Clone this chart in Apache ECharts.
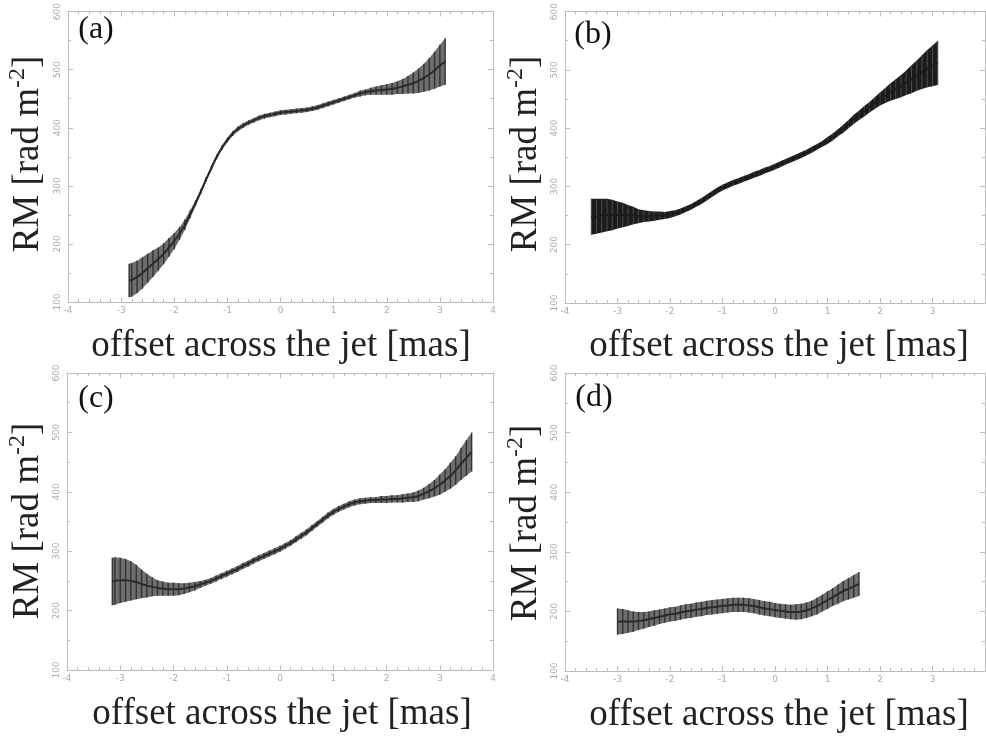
<!DOCTYPE html>
<html>
<head>
<meta charset="utf-8">
<script src="https://cdn.jsdelivr.net/npm/echarts@6/dist/echarts.min.js"></script>
<style>html,body{margin:0;padding:0;background:#fff}#c{width:986px;height:736px}</style>
</head>
<body>
<div id="c"></div>
<script>
// ---- Data ----
const xTicks = [-4, -3, -2, -1, 0, 1, 2, 3, 4];
const yTicks = [100, 200, 300, 400, 500, 600];

// Panel (a)
const aX = [-2.85,-2.8,-2.7,-2.6,-2.5,-2.4,-2.3,-2.2,-2.1,-2.0,-1.9,-1.8,-1.7,-1.6,-1.5,-1.4,-1.3,-1.2,-1.1,-1.0,-0.9,-0.8,-0.7,-0.6,-0.5,-0.4,-0.3,-0.2,-0.1,0.0,0.1,0.2,0.3,0.4,0.5,0.6,0.7,0.8,0.9,1.0,1.1,1.2,1.3,1.4,1.5,1.6,1.7,1.8,1.9,2.0,2.1,2.2,2.3,2.4,2.5,2.6,2.7,2.8,2.9,3.0,3.1];
const aRM = [137,138,143,150,158,166,174,183,194,205,218,233,251,270,290,311,331,350,366,379,390,398,404,409,413,417,420,422,424,426,427,428,429,430,431,433,435,438,441,444,447,450,453,456,459,461,463,464,465,466,467,469,471,474,477,481,486,492,499,507,514];
const aErr = [29,29,28,27,25,23,20,18,16,14,11,9,7,5,4,4,4,4,4,4,4,4,4,4,4,4,4,4,4,4,4,4,4,4,4,4,4,4,4,4,4,4,4,4,5,5,6,7,8,9,10,11,13,15,18,21,24,28,32,36,40];

// Panel (b)
const bX = [-3.5,-3.4,-3.3,-3.2,-3.1,-3.0,-2.9,-2.8,-2.7,-2.6,-2.5,-2.4,-2.3,-2.2,-2.1,-2.0,-1.9,-1.8,-1.7,-1.6,-1.5,-1.4,-1.3,-1.2,-1.1,-1.0,-0.9,-0.8,-0.7,-0.6,-0.5,-0.4,-0.3,-0.2,-0.1,0.0,0.1,0.2,0.3,0.4,0.5,0.6,0.7,0.8,0.9,1.0,1.1,1.2,1.3,1.4,1.5,1.6,1.7,1.8,1.9,2.0,2.1,2.2,2.3,2.4,2.5,2.6,2.7,2.8,2.9,3.0,3.1];
const bRM = [248,249,250,251,251,251,251,250,250,249,249,249,249,250,250,252,254,257,261,265,270,275,281,287,293,298,302,306,309,313,316,320,323,327,330,334,338,342,346,350,354,358,363,368,373,379,385,392,399,407,415,422,429,436,443,450,456,462,467,472,478,484,490,496,502,507,512];
const bErr = [31,30,29,28,26,23,21,18,15,12,10,9,8,7,6,6,5,5,5,5,5,5,5,5,5,5,5,5,5,5,5,5,5,5,5,5,5,5,5,5,5,5,5,5,5,6,6,6,7,7,8,8,9,9,10,11,13,15,17,19,21,24,26,29,32,35,38];

// Panel (c)
const cX = [-3.15,-3.1,-3.0,-2.9,-2.8,-2.7,-2.6,-2.5,-2.4,-2.3,-2.2,-2.1,-2.0,-1.9,-1.8,-1.7,-1.6,-1.5,-1.4,-1.3,-1.2,-1.1,-1.0,-0.9,-0.8,-0.7,-0.6,-0.5,-0.4,-0.3,-0.2,-0.1,0.0,0.1,0.2,0.3,0.4,0.5,0.6,0.7,0.8,0.9,1.0,1.1,1.2,1.3,1.4,1.5,1.6,1.7,1.8,1.9,2.0,2.1,2.2,2.3,2.4,2.5,2.6,2.7,2.8,2.9,3.0,3.1,3.2,3.3,3.4,3.5,3.6];
const cRM = [249,250,251,251,250,248,245,242,240,238,237,236,236,236,237,239,241,244,247,250,254,258,262,266,270,275,279,284,288,292,296,300,304,309,314,320,326,332,339,346,353,360,366,371,375,379,382,384,385,386,386,387,387,388,388,389,390,391,393,397,401,406,412,419,427,436,447,457,467];
const cErr = [40,40,38,36,33,29,24,20,16,13,12,11,11,10,9,8,7,6,5,5,5,5,5,5,5,5,5,5,5,5,5,5,5,5,5,5,5,5,5,5,5,5,5,5,5,5,5,5,5,5,5,6,6,6,6,7,7,8,9,10,12,14,17,19,22,24,27,30,33];

// Panel (d)
const dX = [-3.0,-2.9,-2.8,-2.7,-2.6,-2.5,-2.4,-2.3,-2.2,-2.1,-2.0,-1.9,-1.8,-1.7,-1.6,-1.5,-1.4,-1.3,-1.2,-1.1,-1.0,-0.9,-0.8,-0.7,-0.6,-0.5,-0.4,-0.3,-0.2,-0.1,0.0,0.1,0.2,0.3,0.4,0.5,0.6,0.7,0.8,0.9,1.0,1.1,1.2,1.3,1.4,1.5,1.6];
const dRM = [183,183,183,183,184,185,187,189,191,193,195,196,198,200,201,203,204,206,207,208,209,210,211,211,211,210,209,207,205,204,202,201,200,199,199,200,202,205,209,214,219,224,229,234,238,242,246];
const dErr = [22,21,19,17,15,14,13,13,12,12,12,12,12,12,12,12,12,12,12,12,12,12,12,12,12,12,12,12,12,12,12,12,12,12,13,13,13,13,14,14,15,15,16,17,18,19,20];

const panelLabels = ['(a)', '(b)', '(c)', '(d)'];
const xName = 'offset across the jet [mas]';

// ---- Layout / styles ----
const grids = [
  {left: 68, top: 5, width: 425, height: 297},
  {left: 565, top: 5, width: 420, height: 298},
  {left: 67, top: 373, width: 426, height: 297},
  {left: 565, top: 373, width: 420, height: 298}
];
const panels = [
  {X: aX, RM: aRM, E: aErr, fill: '#6e6e6e', bar: '#2e2e2e', barW: 1.3, line: '#2a2a2a'},
  {X: bX, RM: bRM, E: bErr, fill: '#1c1c1c', bar: '#4a4a4a', barW: 1, line: '#1c1c1c'},
  {X: cX, RM: cRM, E: cErr, fill: '#6e6e6e', bar: '#2e2e2e', barW: 1.3, line: '#2a2a2a'},
  {X: dX, RM: dRM, E: dErr, fill: '#6e6e6e', bar: '#2e2e2e', barW: 1.3, line: '#2a2a2a'}
];
const nameCenters = [
  {yx: 28, yy: 154, xx: 281, xy: 346, lx: 96, ly: 30},
  {yx: 526, yy: 154, xx: 779, xy: 346, lx: 593, ly: 35},
  {yx: 28, yy: 521, xx: 282, xy: 714, lx: 96, ly: 399},
  {yx: 526, yy: 523, xx: 779, xy: 715, lx: 594, ly: 398}
];

const axisColor = '#bdbdbd';
const labelColor = '#aaaaaa';

const xAxis = [], yAxis = [], series = [], graphic = [];
grids.forEach((g, k) => {
  const showMax = (k === 0 || k === 2);
  const baseX = {
    type: 'value', gridIndex: k, min: xTicks[0], max: xTicks[xTicks.length - 1], interval: 1,
    axisLine: {show: true, onZero: false, lineStyle: {color: axisColor, width: 1}},
    axisTick: {show: true, inside: true, length: 5, lineStyle: {color: axisColor}},
    minorTick: {show: true, splitNumber: 5, length: 3, lineStyle: {color: axisColor}},
    splitLine: {show: false}
  };
  xAxis.push(Object.assign({}, baseX, {position: 'bottom',
    axisLabel: {show: true, color: labelColor, fontSize: 9, fontFamily: 'DejaVu Sans', margin: 4, showMaxLabel: showMax, showMinLabel: true}}));
  xAxis.push(Object.assign({}, baseX, {position: 'top', axisLabel: {show: false}}));
  const baseY = {
    type: 'value', gridIndex: k, min: yTicks[0], max: yTicks[yTicks.length - 1], interval: 100,
    axisLine: {show: true, onZero: false, lineStyle: {color: axisColor, width: 1}},
    axisTick: {show: true, inside: true, length: 5, lineStyle: {color: axisColor}},
    minorTick: {show: true, splitNumber: 2, length: 3, lineStyle: {color: axisColor}},
    splitLine: {show: false}
  };
  yAxis.push(Object.assign({}, baseY, {position: 'left',
    axisLabel: {show: true, color: labelColor, fontSize: 9, fontFamily: 'DejaVu Sans', rotate: 90, align: 'center', verticalAlign: 'bottom', margin: 6, showMaxLabel: true, showMinLabel: true}}));
  yAxis.push(Object.assign({}, baseY, {position: 'right', axisLabel: {show: false}}));

  const p = panels[k];
  const data = p.X.map((x, i) => [x, p.RM[i] - p.E[i], p.RM[i] + p.E[i]]);
  series.push({
    type: 'custom', xAxisIndex: 2 * k, yAxisIndex: 2 * k, data: data, silent: true,
    renderItem: function (params, api) {
      const x = api.value(0), lo = api.value(1), hi = api.value(2);
      const p1 = api.coord([x, lo]), p2 = api.coord([x, hi]);
      const children = [];
      if (params.dataIndex === 0) {
        const top = data.map(d => api.coord([d[0], d[2]]));
        const bot = data.slice().reverse().map(d => api.coord([d[0], d[1]]));
        children.push({type: 'polygon', shape: {points: top.concat(bot)}, style: {fill: p.fill}});
      }
      children.push({type: 'line', shape: {x1: p1[0], y1: p1[1], x2: p2[0], y2: p2[1]}, style: {stroke: p.bar, lineWidth: p.barW}});
      return {type: 'group', children: children};
    }
  });
  series.push({
    type: 'line', xAxisIndex: 2 * k, yAxisIndex: 2 * k, symbol: 'none', smooth: true, silent: true,
    data: p.X.map((x, i) => [x, p.RM[i]]),
    lineStyle: {color: p.line, width: 2}, z: 3
  });

  const n = nameCenters[k];
  graphic.push({
    type: 'text', x: n.yx, y: n.yy, rotation: Math.PI / 2,
    style: {
      text: '{m|RM [rad m}{s|-2}{m|]}', textAlign: 'center', textVerticalAlign: 'middle',
      rich: {
        m: {fontSize: 37, fontFamily: 'Liberation Serif', fill: '#222', lineHeight: 44},
        s: {fontSize: 24, fontFamily: 'Liberation Serif', fill: '#222', verticalAlign: 'top', lineHeight: 26}
      }
    }
  });
  graphic.push({
    type: 'text', x: n.xx, y: n.xy,
    style: {text: xName, font: '37px "Liberation Serif"', fill: '#222', textAlign: 'center', textVerticalAlign: 'middle'}
  });
  graphic.push({
    type: 'text', x: n.lx, y: n.ly,
    style: {text: panelLabels[k], font: '32px "Liberation Serif"', fill: '#111', textAlign: 'center', textVerticalAlign: 'middle'}
  });
});

const chart = echarts.init(document.getElementById('c'), null, {renderer: 'canvas'});
chart.setOption({
  animation: false,
  backgroundColor: '#fff',
  grid: grids,
  xAxis: xAxis,
  yAxis: yAxis,
  series: series,
  graphic: graphic
});
</script>
</body>
</html>
